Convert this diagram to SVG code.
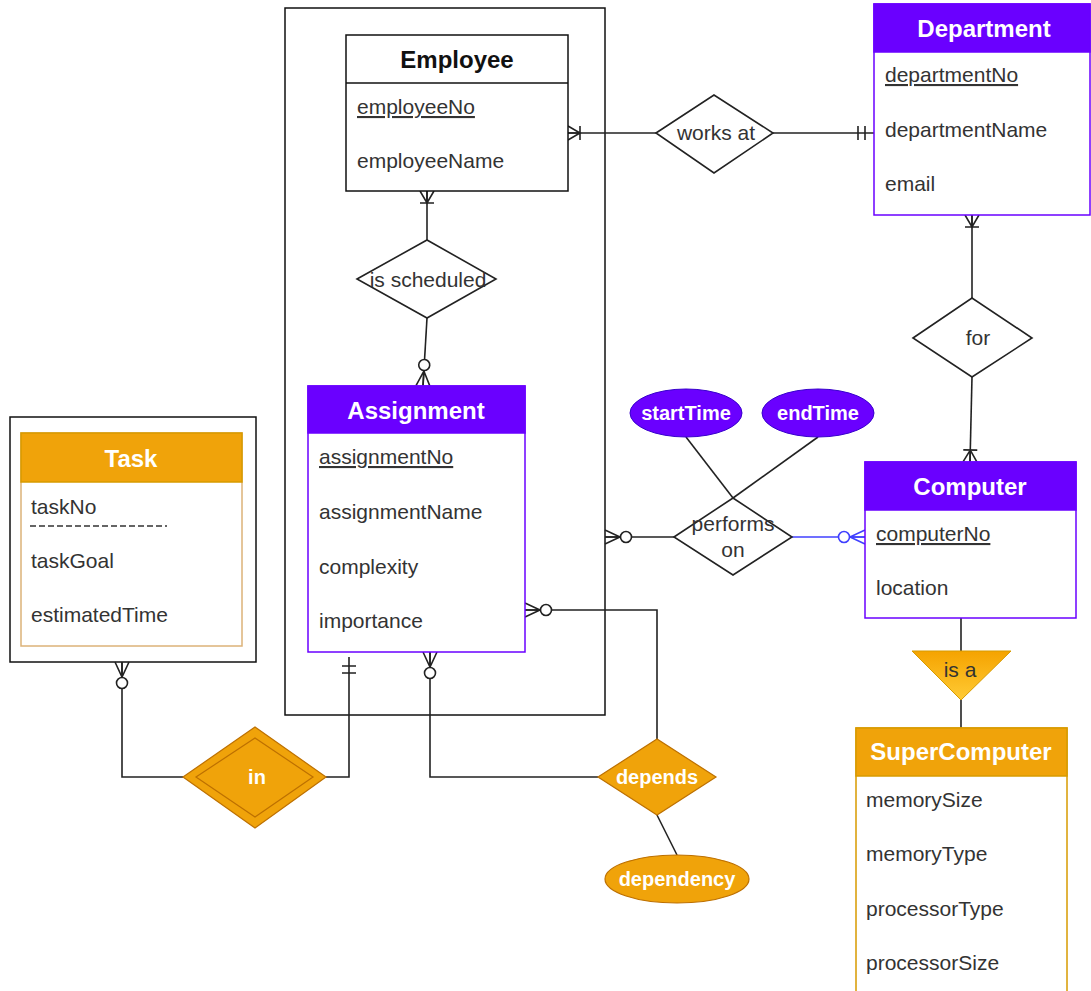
<svg xmlns="http://www.w3.org/2000/svg" width="1091" height="991" viewBox="0 0 1091 991">
<style>
.t{font-family:"Liberation Sans",Arial,sans-serif;font-size:21px;fill:#333}
.u{text-decoration:underline}
.h{font-family:"Liberation Sans",Arial,sans-serif;font-weight:bold;font-size:24px;fill:#fff;text-anchor:middle}
.hb{fill:#111}
.l{font-family:"Liberation Sans",Arial,sans-serif;font-weight:bold;font-size:20px;fill:#fff;text-anchor:middle}
.r{font-family:"Liberation Sans",Arial,sans-serif;font-size:21px;fill:#333;text-anchor:middle}
.pbox{fill:#fff;stroke:#6a00ff;stroke-width:1.5}
.phead{fill:#6a00ff;stroke:#6a00ff;stroke-width:1.5}
.obox{fill:#fff;stroke:#d79b00;stroke-width:1.5}
.ohead{fill:#f0a30a;stroke:#d79b00;stroke-width:1.5}
.kbox{fill:#fff;stroke:#111;stroke-width:1.5}
.c{fill:none;stroke:#222;stroke-width:1.6}
.cb{fill:none;stroke:#4040ff;stroke-width:1.6}
.d{fill:#fff;stroke:#222;stroke-width:1.6}
.od{fill:#f0a30a;stroke:#bd7000;stroke-width:1.2}
.pe{fill:#6a00ff;stroke:#3700cc;stroke-width:1}
</style>
<defs>
<marker id="oneMany" markerUnits="userSpaceOnUse" viewBox="-30 -12 32 24" refX="0" refY="0" markerWidth="32" markerHeight="24" orient="auto" overflow="visible">
<path d="M0,-7 L-12,0 L0,7 M-12,0 L0,0 M-12,-7 L-12,7" fill="none" stroke="#222" stroke-width="1.6"/>
</marker>
<marker id="zeroMany" markerUnits="userSpaceOnUse" viewBox="-30 -12 32 24" refX="0" refY="0" markerWidth="32" markerHeight="24" orient="auto" overflow="visible">
<path d="M0,-7 L-15,0 L0,7 M-15,0 L0,0" fill="none" stroke="#222" stroke-width="1.6"/>
<circle cx="-21" cy="0" r="5.5" fill="#fff" stroke="#222" stroke-width="1.6"/>
</marker>
<marker id="zeroManyB" markerUnits="userSpaceOnUse" viewBox="-30 -12 32 24" refX="0" refY="0" markerWidth="32" markerHeight="24" orient="auto" overflow="visible">
<path d="M0,-7 L-15,0 L0,7 M-15,0 L0,0" fill="none" stroke="#4040ff" stroke-width="1.6"/>
<circle cx="-21" cy="0" r="5.5" fill="#fff" stroke="#4040ff" stroke-width="1.6"/>
</marker>
<marker id="mandOne" markerUnits="userSpaceOnUse" viewBox="-30 -12 32 24" refX="0" refY="0" markerWidth="32" markerHeight="24" orient="auto" overflow="visible">
<path d="M-9,-7 L-9,7 M-16,-7 L-16,7" fill="none" stroke="#222" stroke-width="1.6"/>
</marker>
<linearGradient id="isaG" x1="0" y1="0" x2="0" y2="1">
<stop offset="0" stop-color="#f5a300"/>
<stop offset="1" stop-color="#ffcb35"/>
</linearGradient>
</defs>

<g id="aggregation">
<rect x="285" y="8" width="320" height="707" class="kbox"/>
</g>
<g id="task-frame">
<rect x="10" y="417" width="246" height="245" class="kbox"/>
</g>

<g id="connectors">
<path d="M656,133 L568,133" class="c" marker-end="url(#oneMany)"/>
<path d="M773,133 L874,133" class="c" marker-end="url(#mandOne)"/>
<path d="M427,240 L427,191" class="c" marker-end="url(#oneMany)"/>
<path d="M427,318 L423,386" class="c" marker-end="url(#zeroMany)"/>
<path d="M972,298 L972,215" class="c" marker-end="url(#oneMany)"/>
<path d="M972,377 L970,462" class="c" marker-end="url(#oneMany)"/>
<path d="M674,537 L605,537" class="c" marker-end="url(#zeroMany)"/>
<path d="M792,537 L865,537" class="cb" marker-end="url(#zeroManyB)"/>
<path d="M686,437 L733,498" class="c"/>
<path d="M818,437 L733,498" class="c"/>
<path d="M657,740 L657,610 L525,610" class="c" marker-end="url(#zeroMany)"/>
<path d="M598,777 L430,777 L430,652" class="c" marker-end="url(#zeroMany)"/>
<path d="M657,815 L677,855" class="c"/>
<path d="M183,777 L122,777 L122,662" class="c" marker-end="url(#zeroMany)"/>
<path d="M326,777 L349,777 L349,657" class="c" marker-end="url(#mandOne)"/>
<path d="M961,618 L961,651" class="c"/>
<path d="M961,700 L961,728" class="c"/>
</g>

<g id="employee">
<rect x="346" y="35" width="222" height="156" class="kbox"/>
<line x1="346" y1="83" x2="568" y2="83" stroke="#111" stroke-width="1.5"/>
<text x="457" y="68" class="h hb">Employee</text>
<text x="357" y="114" class="t u">employeeNo</text>
<text x="357" y="168" class="t">employeeName</text>
</g>

<g id="department">
<rect x="874" y="4" width="216" height="211" class="pbox"/>
<rect x="874" y="4" width="216" height="48" class="phead"/>
<text x="984" y="37" class="h">Department</text>
<text x="885" y="82" class="t u">departmentNo</text>
<text x="885" y="137" class="t">departmentName</text>
<text x="885" y="191" class="t">email</text>
</g>

<g id="assignment">
<rect x="308" y="386" width="217" height="266" class="pbox"/>
<rect x="308" y="386" width="217" height="47" class="phead"/>
<text x="416" y="419" class="h">Assignment</text>
<text x="319" y="464" class="t u">assignmentNo</text>
<text x="319" y="519" class="t">assignmentName</text>
<text x="319" y="574" class="t">complexity</text>
<text x="319" y="628" class="t">importance</text>
</g>

<g id="computer">
<rect x="865" y="462" width="211" height="156" class="pbox"/>
<rect x="865" y="462" width="211" height="48" class="phead"/>
<text x="970" y="495" class="h">Computer</text>
<text x="876" y="541" class="t u">computerNo</text>
<text x="876" y="595" class="t">location</text>
</g>

<g id="task">
<rect x="21" y="433" width="221" height="213" class="obox" style="stroke:#dcb278"/>
<rect x="21" y="433" width="221" height="49" class="ohead"/>
<text x="131" y="467" class="h">Task</text>
<text x="31" y="514" class="t">taskNo</text>
<line x1="30" y1="526" x2="167" y2="526" stroke="#333" stroke-width="1.5" stroke-dasharray="6,3"/>
<text x="31" y="568" class="t">taskGoal</text>
<text x="31" y="622" class="t">estimatedTime</text>
</g>

<g id="supercomputer">
<rect x="856" y="728" width="211" height="280" class="obox"/>
<rect x="856" y="728" width="211" height="48" class="ohead"/>
<text x="961" y="760" class="h">SuperComputer</text>
<text x="866" y="807" class="t">memorySize</text>
<text x="866" y="861" class="t">memoryType</text>
<text x="866" y="916" class="t">processorType</text>
<text x="866" y="970" class="t">processorSize</text>
</g>

<g id="works-at">
<polygon points="656,133 714,95 773,133 714,173" class="d"/>
<text x="716" y="140" class="r">works at</text>
</g>

<g id="is-scheduled">
<polygon points="357,279 427,240 496,279 427,318" class="d"/>
<text x="428" y="287" class="r">is scheduled</text>
</g>

<g id="for">
<polygon points="913,338 972,298 1032,338 972,377" class="d"/>
<text x="978" y="345" class="r">for</text>
</g>

<g id="performs-on">
<polygon points="674,537 733,498 792,537 733,575" class="d"/>
<text x="733" y="531" class="r">performs</text>
<text x="733" y="557" class="r">on</text>
</g>

<g id="startTime">
<ellipse cx="686" cy="413" rx="56" ry="24" class="pe"/>
<text x="686" y="420" class="l">startTime</text>
</g>

<g id="endTime">
<ellipse cx="818" cy="413" rx="56" ry="24" class="pe"/>
<text x="818" y="420" class="l">endTime</text>
</g>

<g id="depends">
<polygon points="598,777 657,739 716,777 657,815" class="od"/>
<text x="657" y="784" class="l">depends</text>
</g>

<g id="dependency">
<ellipse cx="677" cy="879" rx="72" ry="24" class="od"/>
<text x="677" y="886" class="l">dependency</text>
</g>

<g id="in">
<polygon points="183,777 255,727 326,777 255,828" class="od"/>
<polygon points="196,777 255,738 313,777 255,817" fill="none" stroke="#bd7000" stroke-width="1.2"/>
<text x="257" y="784" class="l">in</text>
</g>

<g id="is-a">
<polygon points="912,651 1011,651 961,700" fill="url(#isaG)" stroke="#d79b00" stroke-width="1"/>
<text x="960" y="677" class="r" style="fill:#333">is a</text>
</g>
</svg>
